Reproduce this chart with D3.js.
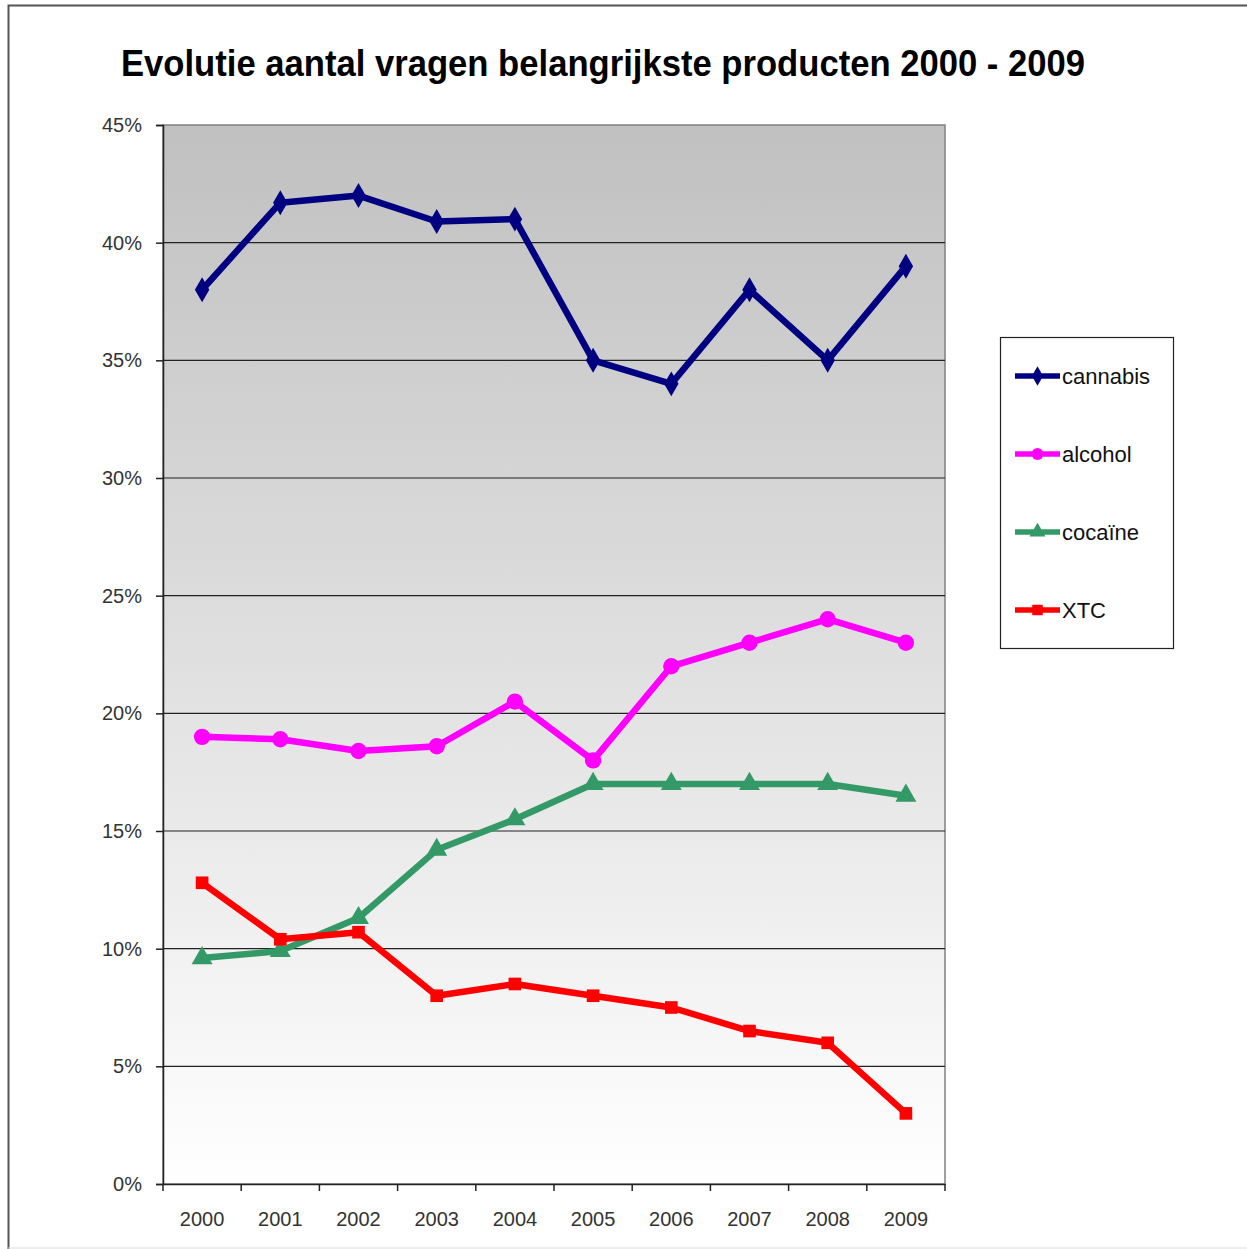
<!DOCTYPE html>
<html>
<head>
<meta charset="utf-8">
<script src="https://cdn.jsdelivr.net/npm/d3@7"></script>
<style>
  body { margin: 0; background: #fff; }
  svg text { font-family: "Liberation Sans", Arial, sans-serif; }
</style>
</head>
<body>
<svg id="chart"></svg>
<script>
// Data
const years = ['2000', '2001', '2002', '2003', '2004', '2005', '2006', '2007', '2008', '2009'];
const cannabis = [38.0, 41.7, 42.0, 40.9, 41.0, 35.0, 34.0, 38.0, 35.0, 39.0];
const alcohol = [19.0, 18.9, 18.4, 18.6, 20.5, 18.0, 22.0, 23.0, 24.0, 23.0];
const cocaine = [9.6, 9.9, 11.3, 14.2, 15.5, 17.0, 17.0, 17.0, 17.0, 16.5];
const xtc = [12.8, 10.4, 10.7, 8.0, 8.5, 8.0, 7.5, 6.5, 6.0, 3.0];
const yTicks = [0, 5, 10, 15, 20, 25, 30, 35, 40, 45];

const series = [
  {name: 'cannabis', values: cannabis, color: '#000080', marker: 'diamond'},
  {name: 'alcohol', values: alcohol, color: '#ff00ff', marker: 'circle'},
  {name: 'cocaïne', values: cocaine, color: '#339966', marker: 'triangle'},
  {name: 'XTC', values: xtc, color: '#ff0000', marker: 'square'}
];

// Canvas
let width = 1247;
let height = 1249;
let plot = {left: 163, right: 945, top: 125, bottom: 1184};

let svg = d3.select('#chart').attr('width', width).attr('height', height);

// outer frame (only top and left visible in the crop)
svg.append('path')
  .attr('d', 'M8.5,1249 L8.5,5.5 L1247,5.5')
  .attr('fill', 'none').attr('stroke', '#555').attr('stroke-width', 2);
svg.append('line')
  .attr('x1', 8).attr('x2', 1247).attr('y1', 1248).attr('y2', 1248)
  .attr('stroke', '#ddd').attr('stroke-width', 1);

// title
svg.append('text')
  .attr('x', 121).attr('y', 76)
  .attr('textLength', 964).attr('lengthAdjust', 'spacingAndGlyphs')
  .style('font-size', '37px').style('font-weight', 'bold')
  .text('Evolutie aantal vragen belangrijkste producten 2000 - 2009');

// scales
let xScale = d3.scaleBand().domain(years).range([plot.left, plot.right]);
let yScale = d3.scaleLinear().domain([0, 45]).range([plot.bottom, plot.top]);

// background gradient
let grad = svg.append('defs').append('linearGradient')
  .attr('id', 'bg').attr('x1', 0).attr('y1', 0).attr('x2', 0).attr('y2', 1);
grad.append('stop').attr('offset', '0%').attr('stop-color', '#c0c0c0');
grad.append('stop').attr('offset', '100%').attr('stop-color', '#ffffff');

svg.append('rect')
  .attr('x', plot.left).attr('y', plot.top)
  .attr('width', plot.right - plot.left).attr('height', plot.bottom - plot.top)
  .attr('fill', 'url(#bg)')
  .attr('stroke', '#808080').attr('stroke-width', 1.5);

// gridlines
svg.append('g')
  .selectAll('line')
  .data(yTicks.filter(d => d > 0 && d < 45))
  .enter()
  .append('line')
  .attr('x1', plot.left).attr('x2', plot.right)
  .attr('y1', d => yScale(d)).attr('y2', d => yScale(d))
  .attr('stroke', '#222').attr('stroke-width', 1.2);

// axes
let yAxis = d3.axisLeft(yScale).tickValues(yTicks).tickFormat(d => d + '%').tickSize(7).tickPadding(14);
let gy = svg.append('g')
  .attr('transform', 'translate(' + plot.left + ', 0)')
  .call(yAxis);
gy.select('.domain').attr('stroke', '#222').attr('stroke-width', 1.5);
gy.selectAll('.tick line').attr('stroke', '#222').attr('stroke-width', 1.5);
gy.selectAll('text').style('font-size', '20px').attr('fill', '#333')
  .style('font-family', '"Liberation Sans", Arial, sans-serif');

let xAxis = d3.axisBottom(xScale).tickSize(0).tickPadding(28);
let gx = svg.append('g')
  .attr('transform', 'translate(0, ' + plot.bottom + ')')
  .call(xAxis);
gx.select('.domain').attr('stroke', '#222').attr('stroke-width', 1.5);
gx.selectAll('text').style('font-size', '20px').attr('fill', '#333')
  .style('font-family', '"Liberation Sans", Arial, sans-serif');

// x ticks on band boundaries
let bounds = years.map(y => xScale(y)).concat([plot.right]);
svg.append('g')
  .selectAll('line')
  .data(bounds)
  .enter()
  .append('line')
  .attr('x1', d => d).attr('x2', d => d)
  .attr('y1', plot.bottom).attr('y2', plot.bottom + 7)
  .attr('stroke', '#222').attr('stroke-width', 1.5);

// markers
const symbolFor = function(m) {
  if (m === 'diamond') return d3.symbol().type(d3.symbolDiamond).size(180);
  if (m === 'circle') return d3.symbol().type(d3.symbolCircle).size(210);
  if (m === 'triangle') return d3.symbol().type(d3.symbolTriangle).size(190);
  return d3.symbol().type(d3.symbolSquare).size(160);
};

let line = d3.line()
  .x((d, i) => xScale(years[i]) + xScale.bandwidth() / 2)
  .y(d => yScale(d));

series.forEach(s => {
  svg.append('path')
    .datum(s.values)
    .attr('d', line)
    .attr('fill', 'none')
    .attr('stroke', s.color)
    .attr('stroke-width', 6.5)
    .attr('stroke-linejoin', 'round');

  svg.append('g')
    .selectAll('path')
    .data(s.values)
    .enter()
    .append('path')
    .attr('d', symbolFor(s.marker))
    .attr('transform', (d, i) => 'translate(' + (xScale(years[i]) + xScale.bandwidth() / 2) + ',' + yScale(d) + ')')
    .attr('fill', s.color);
});

// legend
let legend = svg.append('g').attr('transform', 'translate(1000, 337)');
legend.append('rect')
  .attr('x', 0.5).attr('y', 0.5)
  .attr('width', 173).attr('height', 311)
  .attr('fill', '#fff').attr('stroke', '#222').attr('stroke-width', 1.2);

let items = legend.selectAll('.item')
  .data(series)
  .enter()
  .append('g')
  .attr('class', 'item')
  .attr('transform', (d, i) => 'translate(0,' + (39 + i * 78) + ')');

items.append('line')
  .attr('x1', 15).attr('x2', 60)
  .attr('y1', 0).attr('y2', 0)
  .attr('stroke', d => d.color).attr('stroke-width', 5.5);

items.append('path')
  .attr('d', d => symbolFor(d.marker).size(110)())
  .attr('transform', 'translate(37.5,0)')
  .attr('fill', d => d.color);

items.append('text')
  .attr('x', 62).attr('y', 8)
  .style('font-size', '22px')
  .attr('fill', '#111')
  .text(d => d.name);
</script>
</body>
</html>
